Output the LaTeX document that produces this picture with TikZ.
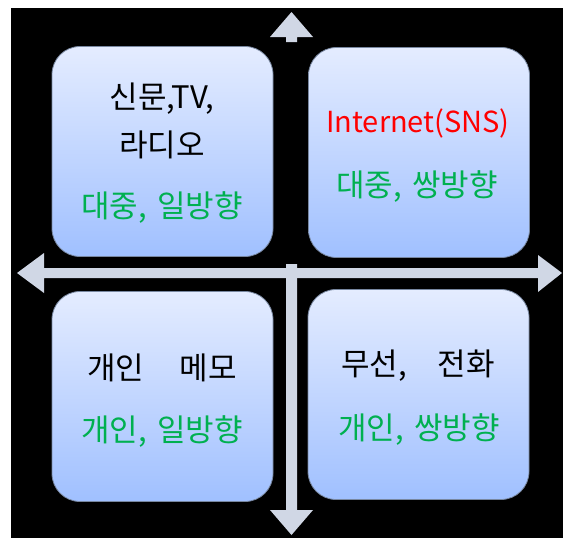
\documentclass[tikz,border=0pt]{standalone}
\usepackage{fontspec}
\setmainfont{Noto Sans CJK KR}
\definecolor{bgblack}{RGB}{0,0,0}
\definecolor{arrowc}{RGB}{208,215,229}
\definecolor{boxtop}{RGB}{228,236,255}
\definecolor{boxbot}{RGB}{160,192,255}
\definecolor{boxline}{RGB}{120,135,160}
\definecolor{greentxt}{RGB}{0,176,80}
\tikzset{
  quadbox/.style={draw=boxline, line width=0.8pt, rounded corners=28pt,
    top color=boxtop, bottom color=boxbot, minimum width=221pt, minimum height=210pt,
    inner sep=0pt},
  txt/.style={font=\fontsize{31}{36}\selectfont, text=black, inner sep=0pt},
  gtxt/.style={txt, text=greentxt},
  rtxt/.style={font=\fontsize{29}{34}\selectfont, inner sep=0pt, text=red},
  arrowfill/.style={fill=arrowc}
}
\begin{document}
\begin{tikzpicture}[x=1pt,y=-1pt]
\useasboundingbox (0,0) rectangle (563,538);
\fill[white] (0,0) rectangle (563,538);
\fill[bgblack] (11,8) rectangle (563,538);
% arrows
\fill[arrowfill] (270,37) -- (291.5,12) -- (313,37) -- (297,37) -- (297,42) -- (286,42) -- (286,37) -- cycle;
\fill[arrowfill] (17,273) -- (44,253) -- (44,268) -- (538,268) -- (538,255) -- (562,273) -- (538,292) -- (538,278) -- (44,278) -- (44,293) -- cycle;
\fill[arrowfill] (286,264) -- (297,264) -- (297,510) -- (313,510) -- (291.5,535) -- (270,510) -- (286,510) -- cycle;
% boxes
\node[quadbox] (tl) at (162.5,151.5) {};
\node[quadbox] (tr) at (419,152.5) {};
\node[quadbox] (bl) at (162.5,396.5) {};
\node[quadbox] (br) at (418.5,394.5) {};
% texts
\node[txt] (tl1) at (162,99) {신문,TV,};
\node[txt] (tl2) at (162,145) {라디오};
\node[gtxt] (tl3) at (162,208) {대중,\hspace{0.1em} 일방향};
\node[rtxt] (tr1) at (418,123) {Internet(SNS)};
\node[gtxt] (tr2) at (417,187) {대중,\hspace{0.1em} 쌍방향};
\node[txt] (bl1) at (162,368) {개인\hspace{1.15em}메모};
\node[gtxt] (bl2) at (162,432) {개인,\hspace{0.1em} 일방향};
\node[txt] (br1) at (418,366) {무선,\hspace{1em}전화};
\node[gtxt] (br2) at (419,430) {개인,\hspace{0.1em} 쌍방향};
\end{tikzpicture}
\end{document}
